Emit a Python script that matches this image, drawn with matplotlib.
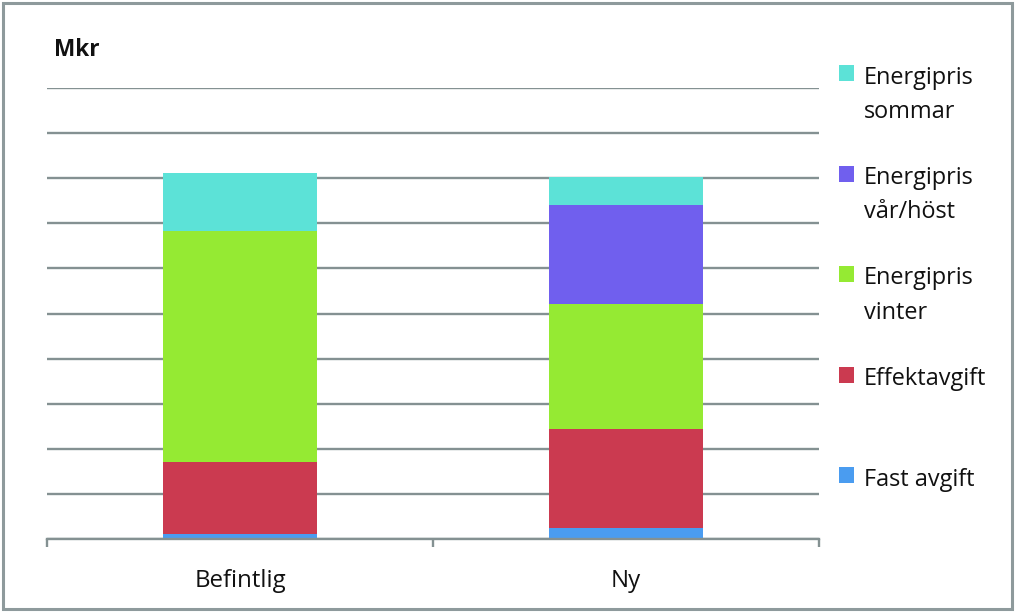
import matplotlib
matplotlib.use("Agg")
import matplotlib.pyplot as plt
from matplotlib.patches import Rectangle
import numpy as np

# ---- data (Mkr) ----
categories = ["Befintlig", "Ny"]
series_names = ["Fast avgift", "Effektavgift", "Energipris\nvinter",
                "Energipris\nvår/höst", "Energipris\nsommar"]
fast_avgift = [0.10, 0.24]
effektavgift = [1.60, 2.20]
energi_vinter = [5.13, 2.77]
energi_varhost = [0.00, 2.20]
energi_sommar = [1.29, 0.61]
series_values = [fast_avgift, effektavgift, energi_vinter, energi_varhost, energi_sommar]
colors = ["#4A9CF0", "#CB3A50", "#95EA33", "#705FEE", "#5CE2D7"]
y_ticks = list(range(0, 11))
y_label = "Mkr"

W, H = 1016, 612
fig = plt.figure(figsize=(W / 100, H / 100), dpi=100)
plt.rcParams['font.family'] = ['Open Sans', 'DejaVu Sans']

def fx(x):
    return x / W

def fy(y):
    return 1 - y / H

left, right, top, bottom = 47, 819, 88, 539
ax = fig.add_axes([fx(left), fy(bottom), (right - left) / W, (bottom - top) / H])

x = np.arange(len(categories))
base = np.zeros(len(categories))
for name, vals, c in zip(series_names, series_values, colors):
    ax.bar(x, vals, width=0.4, bottom=base, color=c, zorder=3, linewidth=0)
    base = base + np.array(vals)

grid_c = "#849192"
ax.set_xlim(-0.5, len(categories) - 0.5)
ax.set_ylim(y_ticks[0], y_ticks[-1])
ax.set_yticks(y_ticks)
ax.yaxis.grid(True, color=grid_c, linewidth=1.7, zorder=1)
ax.tick_params(axis='y', length=0, labelleft=False)
for s in ["left", "top", "right"]:
    ax.spines[s].set_visible(False)
ax.spines["bottom"].set_color(grid_c)
ax.spines["bottom"].set_linewidth(1.7)
ax.spines["bottom"].set_zorder(4)

ax.set_xticks(x)
ax.set_xticklabels(categories, fontsize=17.3, color="#111111")
ax.set_xticks(np.arange(-0.5, len(categories)), minor=True)
ax.tick_params(axis='x', which='major', length=0, pad=34.5)
ax.tick_params(axis='x', which='minor', length=6, width=1.7, color=grid_c, direction='out')
for lab in ax.get_xticklabels():
    lab.set_va('baseline')

# y-axis unit label
fig.text(fx(54), fy(56.5), y_label, fontsize=16.3, fontweight='bold', color="#111111",
         ha='left', va='baseline')

# legend (top to bottom: last series first)
leg_top = 65
step = 100.5
for i, (name, c) in enumerate(zip(series_names[::-1], colors[::-1])):
    yt = leg_top + i * step
    fig.add_artist(Rectangle((fx(839), fy(yt + 16)), 15 / W, 16 / H,
                             transform=fig.transFigure, facecolor=c, edgecolor='none'))
    for j, line in enumerate(name.split("\n")):
        fig.text(fx(864), fy(yt + 18.5 + j * 34.4), line, fontsize=16.9, color="#111111",
                 ha='left', va='baseline')

# figure border
fig.add_artist(Rectangle((fx(3), fy(609)), (1012 - 3) / W, (609 - 3) / H,
                         transform=fig.transFigure, facecolor='none',
                         edgecolor="#8E9A9C", linewidth=2.2))

fig.savefig("out.png", dpi=100)
